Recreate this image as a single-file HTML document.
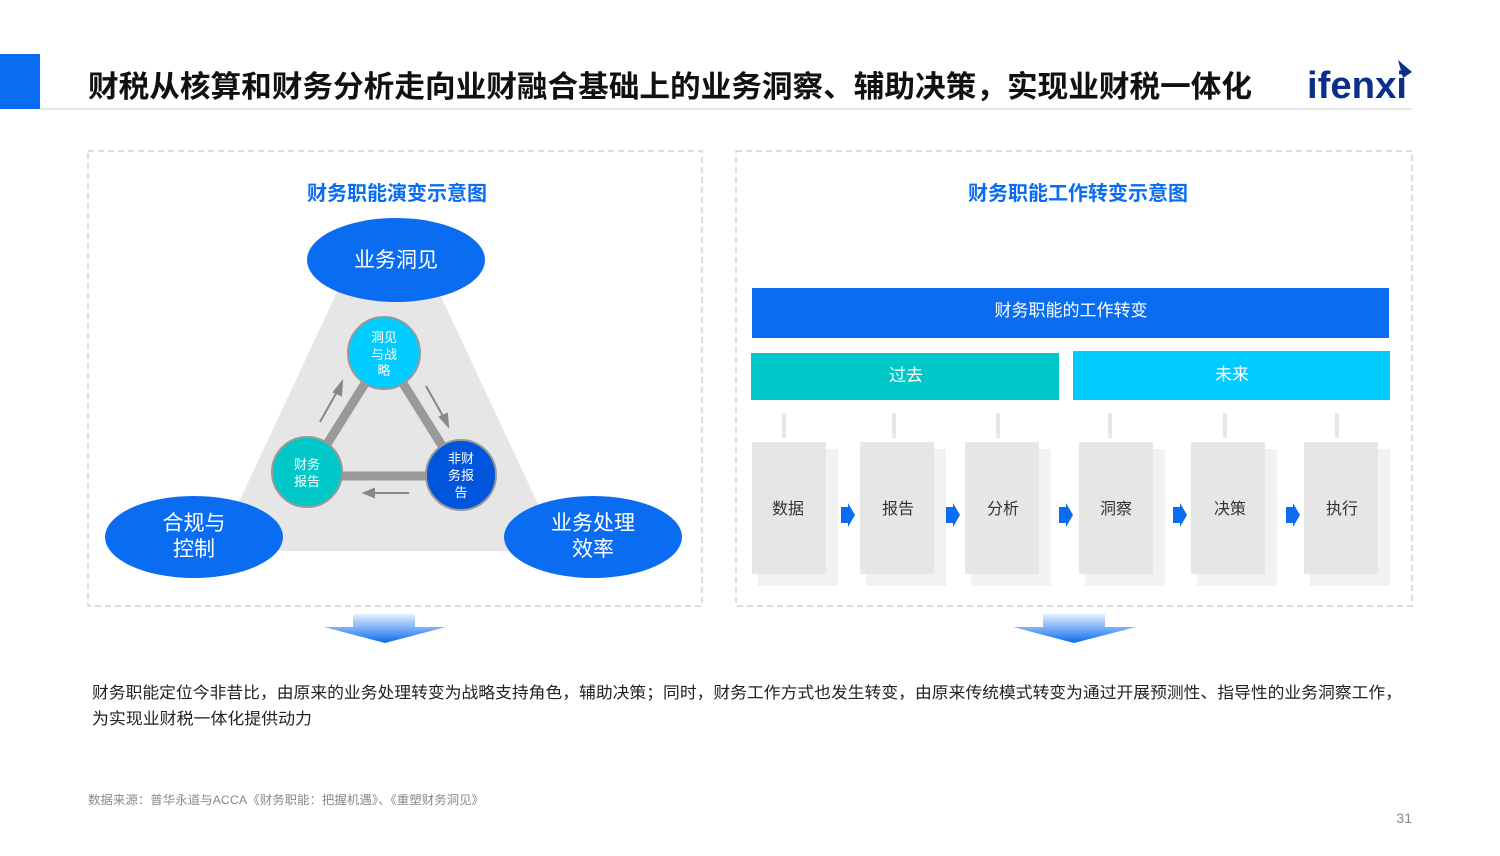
<!DOCTYPE html>
<html><head><meta charset="utf-8"><style>
body{margin:0;background:#fff}
svg{display:block}
text{font-family:"Liberation Sans","Noto Sans CJK SC",sans-serif}
</style></head><body>
<svg width="1500" height="856" viewBox="0 0 1500 856" xmlns="http://www.w3.org/2000/svg">
<defs>
<linearGradient id="ag" x1="0" y1="0" x2="0" y2="1"><stop offset="0" stop-color="#e6f0ff"/><stop offset="1" stop-color="#0a6cf0"/></linearGradient>
</defs>
<rect x="0" y="54" width="40" height="55" fill="#0a6cf0"/>
<line x1="40" y1="109" x2="1412" y2="109" stroke="#d0d0d0" stroke-width="1"/>
<text x="88" y="97" font-size="30" font-weight="bold" fill="#111" textLength="1164" lengthAdjust="spacingAndGlyphs">财税从核算和财务分析走向业财融合基础上的业务洞察、辅助决策，实现业财税一体化</text>
<text x="1307" y="98" font-size="38" font-weight="bold" fill="#0b2f8a" textLength="100" lengthAdjust="spacingAndGlyphs">ifenxi</text>
<polygon points="1398,60 1412,72 1403,78" fill="#0b2f8a"/>
<rect x="88" y="151" width="614" height="455" fill="none" stroke="#bbb" stroke-dasharray="6,4"/>
<rect x="736" y="151" width="676" height="455" fill="none" stroke="#bbb" stroke-dasharray="6,4"/>
<text x="397" y="200" font-size="20" font-weight="bold" fill="#0a6cf0" text-anchor="middle">财务职能演变示意图</text>
<text x="1078" y="200" font-size="20" font-weight="bold" fill="#0a6cf0" text-anchor="middle">财务职能工作转变示意图</text>
<!-- triangle -->
<polygon points="338,290 438,290 560,551 216,551" fill="#e6e6e6"/>
<polygon points="384,353 461,476 307,476" fill="none" stroke="#999" stroke-width="9"/>
<g stroke="#888" stroke-width="2" fill="#888">
<line x1="320" y1="422" x2="338" y2="390"/><polygon points="342,382 334,392 341,395"/>
<line x1="426" y1="386" x2="444" y2="418"/><polygon points="448,426 440,417 447,414"/>
<line x1="409" y1="493" x2="372" y2="493"/><polygon points="364,493 374,489 374,497"/>
</g>
<circle cx="384" cy="353" r="36" fill="#00ccff" stroke="#999" stroke-width="2"/>
<circle cx="307" cy="472" r="35" fill="#00c8c8" stroke="#999" stroke-width="2"/>
<circle cx="461" cy="475" r="35" fill="#0055dd" stroke="#999" stroke-width="2"/>
<g font-size="13" fill="#fff" text-anchor="middle">
<text x="384" y="342">洞见</text><text x="384" y="359">与战</text><text x="384" y="375">略</text>
<text x="307" y="469">财务</text><text x="307" y="486">报告</text>
<text x="461" y="463">非财</text><text x="461" y="480">务报</text><text x="461" y="497">告</text>
</g>
<ellipse cx="396" cy="260" rx="89" ry="42" fill="#0a6cf0"/>
<ellipse cx="194" cy="537" rx="89" ry="41" fill="#0a6cf0"/>
<ellipse cx="593" cy="537" rx="89" ry="41" fill="#0a6cf0"/>
<g font-size="21" fill="#fff" text-anchor="middle">
<text x="396" y="267">业务洞见</text>
<text x="194" y="530">合规与</text><text x="194" y="556">控制</text>
<text x="593" y="530">业务处理</text><text x="593" y="556">效率</text>
</g>
<!-- right -->
<rect x="752" y="288" width="637" height="50" fill="#0a6cf0"/>
<text x="1071" y="316" font-size="17" fill="#fff" text-anchor="middle">财务职能的工作转变</text>
<rect x="751" y="353" width="308" height="47" fill="#00c8c8"/>
<rect x="1073" y="351" width="317" height="49" fill="#00ccff"/>
<text x="906" y="381" font-size="17" fill="#fff" text-anchor="middle">过去</text>
<text x="1232" y="380" font-size="17" fill="#fff" text-anchor="middle">未来</text>
<g font-size="16" fill="#333" text-anchor="middle">
<g transform="translate(752,0)"><rect x="6" y="449" width="80" height="137" fill="#f2f2f2"/><rect x="0" y="442" width="74" height="132" fill="#e6e6e6"/><rect x="30" y="413" width="4" height="25" fill="#e6e6e6"/><text x="36" y="514">数据</text></g>
<g transform="translate(860,0)"><rect x="6" y="449" width="80" height="137" fill="#f2f2f2"/><rect x="0" y="442" width="74" height="132" fill="#e6e6e6"/><rect x="32" y="413" width="4" height="25" fill="#e6e6e6"/><text x="38" y="514">报告</text></g>
<g transform="translate(965,0)"><rect x="6" y="449" width="80" height="137" fill="#f2f2f2"/><rect x="0" y="442" width="74" height="132" fill="#e6e6e6"/><rect x="31" y="413" width="4" height="25" fill="#e6e6e6"/><text x="38" y="514">分析</text></g>
<g transform="translate(1079,0)"><rect x="6" y="449" width="80" height="137" fill="#f2f2f2"/><rect x="0" y="442" width="74" height="132" fill="#e6e6e6"/><rect x="29" y="413" width="4" height="25" fill="#e6e6e6"/><text x="37" y="514">洞察</text></g>
<g transform="translate(1191,0)"><rect x="6" y="449" width="80" height="137" fill="#f2f2f2"/><rect x="0" y="442" width="74" height="132" fill="#e6e6e6"/><rect x="32" y="413" width="4" height="25" fill="#e6e6e6"/><text x="39" y="514">决策</text></g>
<g transform="translate(1304,0)"><rect x="6" y="449" width="80" height="137" fill="#f2f2f2"/><rect x="0" y="442" width="74" height="132" fill="#e6e6e6"/><rect x="31" y="413" width="4" height="25" fill="#e6e6e6"/><text x="38" y="514">执行</text></g>
</g>
<g fill="#0a6cf0">
<polygon points="841,507 848,507 848,503 855,515 848,527 848,523 841,523"/>
<polygon points="946,507 953,507 953,503 960,515 953,527 953,523 946,523"/>
<polygon points="1059,507 1066,507 1066,503 1073,515 1066,527 1066,523 1059,523"/>
<polygon points="1173,507 1180,507 1180,503 1187,515 1180,527 1180,523 1173,523"/>
<polygon points="1286,507 1293,507 1293,503 1300,515 1293,527 1293,523 1286,523"/>
</g>
<polygon points="353,614 415,614 415,627 446,627 385,643 324,627 353,627" fill="url(#ag)"/>
<polygon points="1043,614 1105,614 1105,627 1136,627 1074,643 1013,627 1043,627" fill="url(#ag)"/>
<text x="92" y="698" font-size="16" fill="#222" textLength="1310" lengthAdjust="spacingAndGlyphs">财务职能定位今非昔比，由原来的业务处理转变为战略支持角色，辅助决策；同时，财务工作方式也发生转变，由原来传统模式转变为通过开展预测性、指导性的业务洞察工作，</text>
<text x="92" y="724" font-size="16" fill="#222" textLength="220" lengthAdjust="spacingAndGlyphs">为实现业财税一体化提供动力</text>
<text x="88" y="804" font-size="12" fill="#888" textLength="396" lengthAdjust="spacingAndGlyphs">数据来源：普华永道与ACCA《财务职能：把握机遇》、《重塑财务洞见》</text>
<text x="1412" y="823" font-size="14" fill="#888" text-anchor="end">31</text>
</svg>
</body></html>
